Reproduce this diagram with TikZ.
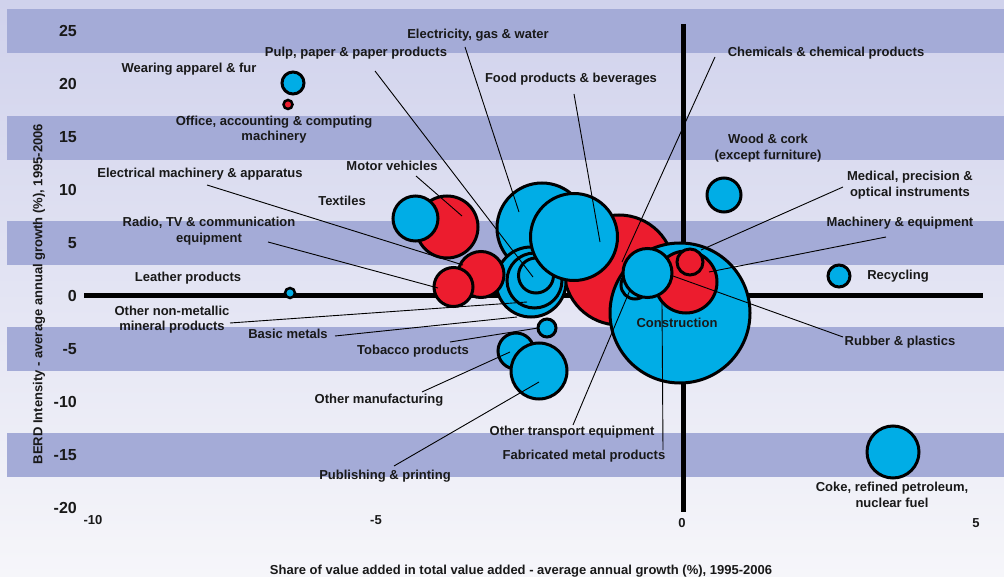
\documentclass[tikz,border=0pt]{standalone}
\usepackage{fontspec}
\setmainfont{Liberation Sans}
\definecolor{bgtop}{RGB}{208,210,236}
\definecolor{bgbot}{RGB}{246,246,250}
\definecolor{band}{RGB}{164,171,215}
\definecolor{bblue}{RGB}{0,173,230}
\definecolor{bred}{RGB}{236,28,46}
\definecolor{txt}{RGB}{25,25,25}
\begin{document}
\begin{tikzpicture}[x=1pt,y=-1pt,
  bub/.style={circle, draw=black, line width=3pt, inner sep=0pt},
  bl/.style={bub, fill=bblue},
  rd/.style={bub, fill=bred},
  lead/.style={line width=0.9pt, black},
  lab/.style={font=\fontsize{13}{15.5}\selectfont\bfseries, text=txt, align=center, inner sep=0pt},
  ytick/.style={font=\fontsize{16}{18}\selectfont\bfseries, text=txt, anchor=east, inner sep=0pt},
  xtick/.style={font=\fontsize{13}{15}\selectfont\bfseries, text=txt, inner sep=0pt},
  axtitle/.style={font=\fontsize{13}{15}\selectfont\bfseries, text=txt, inner sep=0pt},
  axisline/.style={line width=5pt, black}
]
% background
\useasboundingbox (0,0) rectangle (1004,577);
\shade[top color=bgtop, bottom color=bgbot] (0,0) rectangle (1004,577);
\foreach \t/\b in {9/53, 116/160, 221/265, 327/371, 433/477}
  \fill[band] (7,\t) rectangle (1004,\b);

% axes
\coordinate (xl) at (84,296);
\coordinate (xr) at (983,296);
\coordinate (yt) at (683,24);
\coordinate (yb) at (683,512);
\draw[axisline] (xl) -- (xr);
\draw[axisline] (yt) -- (yb);

% y tick labels
\foreach \v/\yy in {25/31, 20/84, 15/137, 10/190, 5/243, 0/296, -5/349, -10/402, -15/455, -20/508}
  \node[ytick] (yt\v) at (77,\yy) {\v};
% x tick labels
\node[xtick] (xm10) at (93,520) {-10};
\node[xtick] (xm5) at (376,520) {-5};
\node[xtick] (x0) at (682,523) {0};
\node[xtick] (x5) at (976,523) {5};

% axis titles
\node[axtitle, rotate=90] (ytitle) at (39,294) {BERD Intensity - average annual growth (\%), 1995-2006};
\node[axtitle] (xtitle) at (521,571) {Share of value added in total value added - average annual growth (\%), 1995-2006};

% isolated bubbles
\node[bl, minimum size=22pt] (wear) at (293,83) {};
\node[rd, minimum size=9pt, line width=2.5pt] (office) at (288,104.5) {};
\node[bl, minimum size=10pt, line width=2.5pt] (leather) at (290,293) {};
\node[bl, minimum size=22pt] (recyc) at (839,276) {};
\node[bl, minimum size=34pt] (wood) at (724,195) {};
\node[bl, minimum size=52pt] (coke) at (893,452) {};

% central cluster
\node[rd, minimum size=110pt] (chem) at (619,270) {};
\node[bl, minimum size=90pt] (elec) at (542,228) {};
\node[bl, minimum size=70pt] (nonmet) at (531,282) {};
\node[bl, minimum size=55pt] (basic) at (534.5,280.5) {};
\node[bl, minimum size=35pt] (pulp) at (536,275.5) {};
\node[bl, minimum size=87pt] (food) at (574,237) {};
\node[rd, minimum size=46pt] (elmach) at (481,274.5) {};
\node[rd, minimum size=39pt] (radio) at (453.5,287) {};
\node[rd, minimum size=62pt] (motor) at (447,227) {};
\node[bl, minimum size=45pt] (textiles) at (415.5,218.5) {};
\node[bl, minimum size=18pt] (tobacco) at (547,328) {};
\node[bl, minimum size=36pt] (othman) at (516,351) {};
\node[bl, minimum size=56pt] (publ) at (539,371) {};
\node[bl, minimum size=140pt] (constr) at (680,313) {};
\node[rd, minimum size=62pt] (machin) at (686,282) {};
\node[bl, minimum size=28pt] (othtr) at (635,285) {};
\node[bl, minimum size=49pt] (rubber) at (647.5,273) {};
\node[rd, minimum size=26pt] (medical) at (690,262) {};

% labels
\node[lab] (Lwear) at (189,69) {Wearing apparel \& fur};
\node[lab] (Loffice) at (274,129.5) {Office, accounting \& computing\\machinery};
\node[lab] (Lpulp) at (356,53) {Pulp, paper \& paper products};
\node[lab] (Lelec) at (478,35) {Electricity, gas \& water};
\node[lab] (Lfood) at (571,79) {Food products \& beverages};
\node[lab] (Lchem) at (826,53) {Chemicals \& chemical products};
\node[lab] (Lwood) at (768,148) {Wood \& cork\\(except furniture)};
\node[lab] (Lmed) at (910,185) {Medical, precision \&\\optical instruments};
\node[lab] (Lmach) at (900,223) {Machinery \& equipment};
\node[lab] (Lrecyc) at (898,276) {Recycling};
\node[lab] (Lrub) at (900,342) {Rubber \& plastics};
\node[lab] (Lcoke) at (892,495) {Coke, refined petroleum,\\nuclear fuel};
\node[lab] (Lothtr) at (572,432) {Other transport equipment};
\node[lab] (Lfab) at (584,456) {Fabricated metal products};
\node[lab] (Lpubl) at (385,476) {Publishing \& printing};
\node[lab] (Lothman) at (379,400) {Other manufacturing};
\node[lab] (Ltob) at (413,351) {Tobacco products};
\node[lab] (Lbasic) at (288,334) {Basic metals};
\node[lab] (Lnonmet) at (172,319.5) {Other non-metallic\\mineral products};
\node[lab] (Lleather) at (188,278) {Leather products};
\node[lab] (Lradio) at (209,231) {Radio, TV \& communication\\equipment};
\node[lab] (Lelmach) at (200,174) {Electrical machinery \& apparatus};
\node[lab] (Lmotor) at (392,166) {Motor vehicles};
\node[lab] (Ltext) at (342,201) {Textiles};
\node[lab] (Lconstr) at (677,323) {Construction};

% leader line ends
\coordinate (a1) at (375,71);   \coordinate (b1) at (533,277);
\coordinate (a2) at (465,47);   \coordinate (b2) at (519,212);
\coordinate (a3) at (574,94);   \coordinate (b3) at (600,242);
\coordinate (a4) at (715,57);   \coordinate (b4) at (622,262);
\coordinate (a5) at (843,187);  \coordinate (b5) at (701,250);
\coordinate (a6) at (886,237);  \coordinate (b6) at (709,272);
\coordinate (a7) at (843,337);  \coordinate (b7) at (673,276);
\coordinate (a8) at (663,450);  \coordinate (b8) at (662,303);
\coordinate (a9) at (573,425);  \coordinate (b9) at (630,290);
\coordinate (a10) at (394,466); \coordinate (b10) at (539,382);
\coordinate (a11) at (422,392); \coordinate (b11) at (510,352);
\coordinate (a12) at (450,342); \coordinate (b12) at (538,328);
\coordinate (a13) at (335,336); \coordinate (b13) at (517,317);
\coordinate (a14) at (230,323); \coordinate (b14) at (527,302);
\coordinate (a15) at (268,242); \coordinate (b15) at (438,288);
\coordinate (a16) at (207,185); \coordinate (b16) at (463,265);
\coordinate (a17) at (416,176); \coordinate (b17) at (462,216);
\foreach \i in {1,...,17}
  \draw[lead] (a\i) -- (b\i);
\end{tikzpicture}
\end{document}
